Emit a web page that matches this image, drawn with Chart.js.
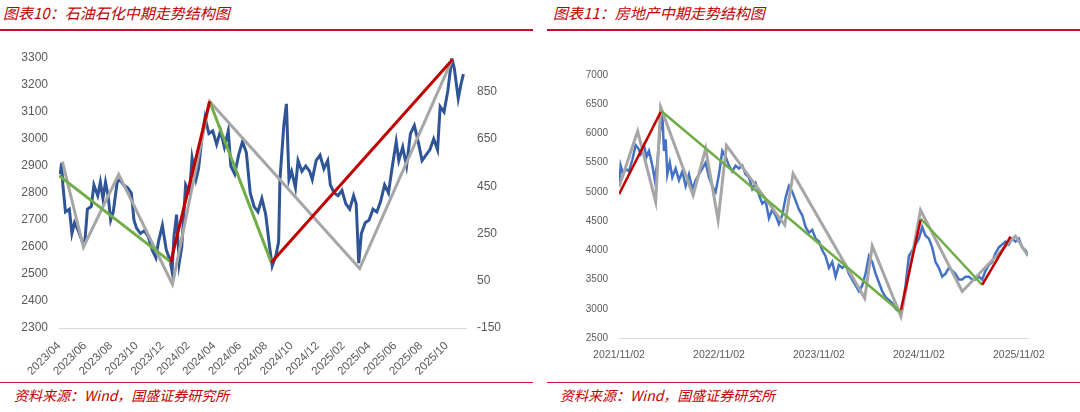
<!DOCTYPE html>
<html><head><meta charset="utf-8">
<script src="https://cdn.jsdelivr.net/npm/chart.js@4"></script>
<style>
body{margin:0;width:1080px;height:412px;background:#fff;position:relative;overflow:hidden;font-family:"Noto Sans CJK SC",sans-serif}
.t{position:absolute;top:2px;color:#C00000;font-size:15px;font-style:italic}
.f{position:absolute;top:385px;color:#C00000;font-size:14px;font-style:italic}
.ln{position:absolute;height:2px;background:#C8102E}
canvas{position:absolute}
</style></head><body>
<div class="t" style="left:3px">图表10：石油石化中期走势结构图</div>
<div class="t" style="left:553px">图表11：房地产中期走势结构图</div>
<div class="ln" style="left:0;width:533px;top:29px"></div>
<div class="ln" style="left:547px;width:533px;top:29px"></div>
<div class="ln" style="left:0;width:533px;top:382px;height:1px"></div>
<div class="ln" style="left:547px;width:533px;top:382px;height:1px"></div>
<div class="f" style="left:14px">资料来源：Wind，国盛证券研究所</div>
<div class="f" style="left:560px">资料来源：Wind，国盛证券研究所</div>
<div style="position:absolute;left:0;top:35px;width:535px;height:345px"><canvas id="c1"></canvas></div>
<div style="position:absolute;left:545px;top:35px;width:535px;height:345px"><canvas id="c2"></canvas></div>
<script>
// ---- Left chart (months since 2023/04) ----
const leftTickLabels=["2023/04","2023/06","2023/08","2023/10","2023/12","2024/02","2024/04","2024/06","2024/08","2024/10","2024/12","2025/02","2025/04","2025/06","2025/08","2025/10"];
const leftBlueX=[0.1,0.2,0.3,0.5,0.8,1.0,1.2,1.5,1.8,2.0,2.2,2.5,2.7,3.0,3.2,3.4,3.6,3.8,4.0,4.2,4.5,4.7,5.0,5.3,5.6,5.8,6.0,6.3,6.6,6.9,7.2,7.5,7.7,8.0,8.3,8.6,8.75,8.9,9.1,9.3,9.5,9.8,10.1,10.3,10.6,10.8,11.1,11.3,11.6,11.9,12.2,12.5,12.8,13.1,13.3,13.6,13.9,14.2,14.5,14.8,15.1,15.4,15.7,16.0,16.3,16.5,16.8,17.0,17.1,17.4,17.6,17.8,18.0,18.3,18.5,18.8,19.1,19.4,19.6,19.9,20.2,20.5,20.8,21.0,21.3,21.6,21.9,22.2,22.5,22.8,23.0,23.2,23.4,23.7,24.0,24.3,24.6,24.9,25.2,25.5,25.8,26.1,26.3,26.6,26.9,27.2,27.5,27.8,28.1,28.4,28.7,29.0,29.3,29.5,29.8,30.1,30.4,30.6,30.9,31.1,31.3];
const leftBlueY=[2870,2910,2830,2730,2740,2650,2690,2660,2620,2620,2740,2750,2830,2790,2840,2780,2840,2790,2700,2730,2840,2850,2830,2820,2800,2700,2670,2650,2660,2640,2590,2560,2620,2680,2590,2550,2510,2640,2720,2540,2600,2830,2800,2930,2850,2890,3020,3080,3020,3030,2980,3030,2970,3030,2900,2870,2940,2990,2950,2800,2750,2730,2780,2720,2600,2530,2570,2620,2850,3050,3130,2850,2880,2820,2920,2880,2900,2880,2850,2920,2940,2890,2920,2830,2800,2790,2810,2760,2740,2790,2760,2540,2650,2690,2700,2740,2730,2770,2830,2800,2900,2990,2920,2970,2900,3020,3050,2990,2920,2940,2960,3000,2960,3120,3100,3180,3300,3260,3150,3200,3240];
const leftGrayX=[0.26,1.89,4.62,8.78,11.66,23.27,30.46];
const leftGrayY=[2916,2600,2869,2462,3139,2520,3298];
const leftGreen1X=[0,8.65], leftGreen1Y=[2864,2545];
const leftGreen2X=[11.66,16.43], leftGreen2Y=[3139,2543];
const leftRed1X=[8.65,11.66], leftRed1Y=[2545,3139];
const leftRed2X=[16.43,30.46], leftRed2Y=[2543,3294];
const leftRightTicks=[-150,50,250,450,650,850];
// ---- Right chart (months since 2021/11/02) ----
const rightTickLabels=["2021/11/02","2022/11/02","2023/11/02","2024/11/02","2025/11/02"];
const rightBlueX=[0,0.2,0.5,0.8,1.2,1.6,2.0,2.3,2.6,3.0,3.3,3.6,4.0,4.3,4.6,4.9,5.2,5.4,5.6,5.8,6.1,6.4,6.8,7.2,7.6,8.0,8.4,8.8,9.2,9.6,10.0,10.4,10.8,11.2,11.6,12.0,12.4,12.8,13.2,13.6,14.0,14.4,14.8,15.2,15.6,16.0,16.4,16.8,17.2,17.6,18.0,18.4,18.8,19.2,19.6,20.0,20.4,20.8,21.2,21.6,22.0,22.4,22.8,23.2,23.6,24.0,24.4,24.8,25.2,25.6,26.0,26.4,26.8,27.2,27.6,28.0,28.4,28.8,29.2,29.6,30.0,30.4,30.8,31.2,31.6,32.0,32.4,32.8,33.2,33.6,34.0,34.4,34.8,35.2,35.6,36.0,36.4,36.8,37.2,37.6,38.0,38.4,38.8,39.2,39.6,40.0,40.4,40.8,41.2,41.6,42.0,42.4,42.8,43.2,43.6,44.0,44.4,44.8,45.2,45.6,46.0,46.4,46.8,47.2,47.6,48.0,48.4,48.8,49.0];
const rightBlueY=[5100,5450,5300,5400,5350,5550,5800,5750,5650,5800,5600,5700,5450,5200,5500,6000,6350,5700,5900,5300,5500,5250,5400,5200,5350,5100,5300,5050,5200,5300,5400,5500,5250,5100,5000,5300,5700,5600,5450,5350,5450,5400,5450,5300,5250,5050,5150,4950,4800,4850,4550,4700,4600,4450,4600,4900,5100,5000,4850,4700,4600,4400,4300,4350,4200,4150,4000,3900,3700,3800,3550,3750,3700,3750,3600,3500,3400,3300,3400,3600,3900,3800,3600,3450,3300,3200,3150,3100,3000,2950,3000,3400,3900,4000,4100,4200,4400,4250,4200,4050,3800,3700,3550,3600,3700,3650,3600,3500,3500,3550,3550,3500,3500,3550,3500,3650,3750,3800,3950,4050,4100,4150,4100,4200,4150,4200,4050,4000,3950];
const rightGrayX=[0,2.24,4.4,5.0,8.9,10.4,11.9,12.9,19.9,20.9,29.5,30.4,33.85,36.2,41.2,47.6,49.1];
const rightGrayY=[5085,6040,4830,6449,4943,5739,4517,5795,4432,5312,3182,4074,2869,4688,3295,4244,3903];
const rightGreen1X=[5.0,33.85], rightGreen1Y=[6392,2937];
const rightGreen2X=[36.2,43.6], rightGreen2Y=[4545,3409];
const rightRed1X=[0,5.0], rightRed1Y=[4960,6364];
const rightRed2X=[33.85,36.2], rightRed2Y=[2983,4517];
const rightRed3X=[43.6,47], rightRed3Y=[3409,4233];

const pts=(xs,ys)=>xs.map((x,i)=>({x,y:ys[i]}));
const ds=(xs,ys,color,w,order,yAxisID)=>({data:pts(xs,ys),borderColor:color,borderWidth:w,showLine:true,pointRadius:0,order,yAxisID:yAxisID||'y',tension:0});
const BLUE='#2F5597',GRAY='#A6A6A6',RED='#C00000',GREEN='#70AD47';
const tickFont={family:'Liberation Sans, sans-serif',size:12};
const plain=v=>String(v);
Chart.defaults.animation=false;

new Chart(document.getElementById('c1'),{type:'scatter',
 data:{datasets:[ds(leftBlueX,leftBlueY,BLUE,3,5),ds(leftGrayX,leftGrayY,GRAY,3,4),
  ds(leftGreen1X,leftGreen1Y,GREEN,3,3),ds(leftGreen2X,leftGreen2Y,GREEN,3,3),
  ds(leftRed1X,leftRed1Y,RED,3,1),ds(leftRed2X,leftRed2Y,RED,3,1)]},
 options:{responsive:true,maintainAspectRatio:false,layout:{padding:{top:23,right:0,left:0,bottom:0}},
  plugins:{legend:{display:false},tooltip:{enabled:false}},
  scales:{
   x:{type:'linear',min:0,max:31.5,grid:{display:false,drawTicks:true},border:{color:'#D9D9D9'},
    afterBuildTicks:s=>{s.ticks=leftTickLabels.map((l,i)=>({value:i*2}));},
    ticks:{color:'#595959',font:{family:'Liberation Sans, sans-serif',size:11.5},maxRotation:45,minRotation:45,autoSkip:false,callback:(v)=>leftTickLabels[Math.round(v/2)]},
    afterFit:s=>{s.height=52;}},
   y:{min:2300,max:3300,grid:{display:false},border:{display:false},
    afterBuildTicks:s=>{s.ticks=[];for(let v=2300;v<=3300;v+=100)s.ticks.push({value:v});},
    ticks:{color:'#595959',font:tickFont,callback:plain},afterFit:s=>{s.width=59;}},
   y2:{position:'right',min:-150,max:-150+1000*200/175,grid:{display:false},border:{display:false},
    afterBuildTicks:s=>{s.ticks=leftRightTicks.map(v=>({value:v}));},
    ticks:{color:'#595959',font:tickFont,callback:plain},afterFit:s=>{s.width=69;}}
  }}});

new Chart(document.getElementById('c2'),{type:'scatter',
 data:{datasets:[ds(rightBlueX,rightBlueY,'#4472C4',2.5,5),ds(rightGrayX,rightGrayY,GRAY,3,4),
  ds(rightGreen1X,rightGreen1Y,GREEN,2.5,3),ds(rightGreen2X,rightGreen2Y,GREEN,2.5,3),
  ds(rightRed1X,rightRed1Y,RED,2.5,1),ds(rightRed2X,rightRed2Y,RED,2.5,1),ds(rightRed3X,rightRed3Y,RED,2.5,1)]},
 options:{responsive:true,maintainAspectRatio:false,layout:{padding:{top:40,right:52,left:0,bottom:0}},
  plugins:{legend:{display:false},tooltip:{enabled:false}},
  scales:{
   x:{type:'linear',min:0,max:49.1,grid:{display:false},border:{color:'#D9D9D9'},
    afterBuildTicks:s=>{s.ticks=rightTickLabels.map((l,i)=>({value:i*12}));},
    ticks:{color:'#595959',font:{family:'Liberation Sans, sans-serif',size:10.5},maxRotation:0,autoSkip:false,callback:(v)=>rightTickLabels[Math.round(v/12)]},
    afterFit:s=>{s.height=42;}},
   y:{min:2500,max:7000,grid:{display:false},border:{display:false},
    afterBuildTicks:s=>{s.ticks=[];for(let v=2500;v<=7000;v+=500)s.ticks.push({value:v});},
    ticks:{color:'#595959',font:{family:'Liberation Sans, sans-serif',size:10},callback:plain},afterFit:s=>{s.width=74;}}
  }}});
</script></body></html>
